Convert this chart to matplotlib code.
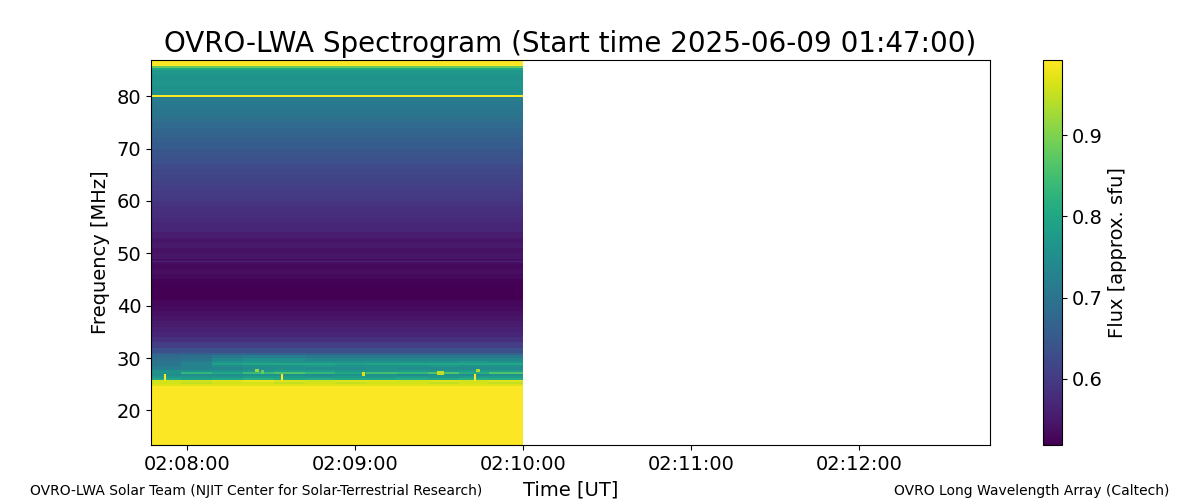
import datetime as dt
import numpy as np
import matplotlib
matplotlib.use("Agg")
import matplotlib.pyplot as plt
import matplotlib.dates as mdates


def at(t):
    return dt.datetime.strptime("2025-06-09 " + t, "%Y-%m-%d %H:%M:%S")


xlim_start = dt.datetime(2025, 6, 9, 2, 7, 47, 160000)
xlim_end = dt.datetime(2025, 6, 9, 2, 12, 46, 800000)
start = at("02:07:47")
stop = at("02:10:00")

# band edges in MHz (top down) and the flux in each band
band_top = [86.9, 85.75, 85.4, 85.0, 84.0, 83.0, 82.0, 81.0, 80.3, 79.9, 79.0, 78.0, 77.0,
            76.0, 75.0, 74.0, 73.0, 72.0, 71.0, 70.0, 69.0, 68.0, 67.0, 66.0, 65.0, 64.0, 63.0,
            62.0, 61.0, 60.0, 59.0, 58.0, 57.0, 56.0, 55.0, 54.0, 53.0, 52.0, 51.0, 50.0, 49.0,
            48.6, 48.4, 48.0, 47.0, 46.0, 45.0, 44.0, 43.0, 42.0, 41.0, 40.0, 39.0, 38.0, 37.0,
            36.0, 35.0, 34.0, 33.0, 32.0, 31.0]
band_flux = [0.99, 0.88, 0.80, 0.77, 0.76, 0.765, 0.76, 0.755, 0.99, 0.715, 0.71, 0.705, 0.70,
             0.69, 0.68, 0.675, 0.665, 0.66, 0.655, 0.645, 0.64, 0.635, 0.625, 0.62, 0.615, 0.61, 0.605,
             0.60, 0.595, 0.59, 0.585, 0.58, 0.575, 0.57, 0.57, 0.555, 0.545, 0.55, 0.54, 0.545, 0.535,
             0.57, 0.535, 0.53, 0.535, 0.53, 0.522, 0.52, 0.52, 0.52, 0.528, 0.533, 0.538, 0.545, 0.553,
             0.56, 0.57, 0.585, 0.605, 0.635, 0.665]
band_bottom = 30.5

# low band, flux changes with time here
low_top = [30.5, 30.0, 29.4, 29.0, 28.6, 28.2, 27.7, 27.4, 27.0, 26.6, 26.2, 25.8, 25.5, 25.1, 24.7]
low_bottom = 13.4
block_times = ["02:07:47", "02:07:58", "02:08:09", "02:08:20", "02:08:31", "02:08:42", "02:08:53",
               "02:09:04", "02:09:15", "02:09:26", "02:09:37", "02:09:48", "02:10:00"]
low_flux = [
    [0.68, 0.69, 0.71, 0.72, 0.72, 0.71, 0.71, 0.71, 0.71, 0.71, 0.71, 0.71],
    [0.69, 0.70, 0.74, 0.75, 0.75, 0.74, 0.74, 0.74, 0.74, 0.74, 0.74, 0.74],
    [0.70, 0.72, 0.76, 0.77, 0.76, 0.76, 0.76, 0.76, 0.76, 0.76, 0.77, 0.76],
    [0.70, 0.73, 0.79, 0.80, 0.80, 0.80, 0.79, 0.80, 0.80, 0.80, 0.80, 0.80],
    [0.71, 0.73, 0.75, 0.76, 0.76, 0.77, 0.76, 0.76, 0.76, 0.77, 0.76, 0.76],
    [0.72, 0.73, 0.74, 0.75, 0.76, 0.75, 0.75, 0.76, 0.75, 0.75, 0.75, 0.75],
    [0.76, 0.76, 0.76, 0.77, 0.78, 0.78, 0.77, 0.77, 0.78, 0.77, 0.78, 0.78],
    [0.76, 0.83, 0.80, 0.84, 0.86, 0.83, 0.80, 0.85, 0.83, 0.86, 0.81, 0.86],
    [0.75, 0.75, 0.75, 0.76, 0.76, 0.75, 0.76, 0.76, 0.75, 0.76, 0.75, 0.76],
    [0.77, 0.77, 0.77, 0.78, 0.78, 0.77, 0.78, 0.77, 0.78, 0.77, 0.78, 0.78],
    [0.80, 0.79, 0.80, 0.82, 0.80, 0.81, 0.80, 0.80, 0.81, 0.80, 0.82, 0.81],
    [0.96, 0.96, 0.97, 0.98, 0.97, 0.96, 0.97, 0.97, 0.96, 0.97, 0.96, 0.97],
    [0.96, 0.95, 0.96, 0.96, 0.95, 0.96, 0.95, 0.96, 0.96, 0.95, 0.96, 0.95],
    [0.97, 0.97, 0.97, 0.97, 0.97, 0.97, 0.97, 0.97, 0.97, 0.97, 0.97, 0.97],
    [0.99, 0.99, 0.99, 0.99, 0.99, 0.99, 0.99, 0.99, 0.99, 0.99, 0.99, 0.99],
]

# short bright bursts: tall ones span a frequency range, small ones are single spots
tall_time = ["02:07:52", "02:08:34", "02:09:43"]
tall_low = [25.7, 25.7, 25.7]
tall_high = [26.9, 26.9, 27.0]
spot_time = ["02:08:25", "02:08:27", "02:09:03", "02:09:30", "02:09:31", "02:09:44"]
spot_freq = [27.6, 27.3, 27.0, 27.2, 27.2, 27.6]
spot_flux = [0.92, 0.88, 0.97, 0.95, 0.95, 0.93]

title = "OVRO-LWA Spectrogram (Start time 2025-06-09 01:47:00)"

plt.rcParams["font.size"] = 14
fig = plt.figure(figsize=(12, 5), dpi=100)
ax = fig.add_axes([151 / 1200, 1 - 445 / 500, 839 / 1200, 385 / 500])
cax = fig.add_axes([1043 / 1200, 1 - 445 / 500, 19 / 1200, 385 / 500])

vmin, vmax = 0.5185, 0.9926
x_edges = mdates.date2num([start, stop])
y_edges = np.array(band_top + [band_bottom])
mesh = ax.pcolormesh(x_edges, y_edges, np.array(band_flux)[:, None], cmap="viridis", vmin=vmin, vmax=vmax)

x_low = mdates.date2num([at(t) for t in block_times])
y_low = np.array(low_top + [low_bottom])
ax.pcolormesh(x_low, y_low, np.array(low_flux), cmap="viridis", vmin=vmin, vmax=vmax)

ax.vlines(mdates.date2num([at(t) for t in tall_time]), tall_low, tall_high, color="#fde725", lw=1.5)
ax.scatter(mdates.date2num([at(t) for t in spot_time]), spot_freq, c=spot_flux, cmap="viridis",
           vmin=vmin, vmax=vmax, s=7, marker="s", linewidths=0)

ax.set_xlim(mdates.date2num(xlim_start), mdates.date2num(xlim_end))
ax.set_ylim(13.4, 86.9)
ax.xaxis.set_major_locator(mdates.MinuteLocator())
ax.xaxis.set_major_formatter(mdates.DateFormatter("%H:%M:%S"))
ax.set_yticks([20, 30, 40, 50, 60, 70, 80])
ax.set_xlabel("Time [UT]", labelpad=5)
ax.set_ylabel("Frequency [MHz]", labelpad=5)
ax.set_title(title, fontsize=20, pad=6)

cb = fig.colorbar(mesh, cax=cax)
cb.set_ticks([0.6, 0.7, 0.8, 0.9])
cb.set_label("Flux [approx. sfu]")

fig.text(30 / 1200, 1 - 491 / 500, "OVRO-LWA Solar Team (NJIT Center for Solar-Terrestrial Research)", fontsize=10, va="center")
fig.text(1169 / 1200, 1 - 491 / 500, "OVRO Long Wavelength Array (Caltech)", fontsize=10, va="center", ha="right")

fig.savefig("out.png", dpi=100)
